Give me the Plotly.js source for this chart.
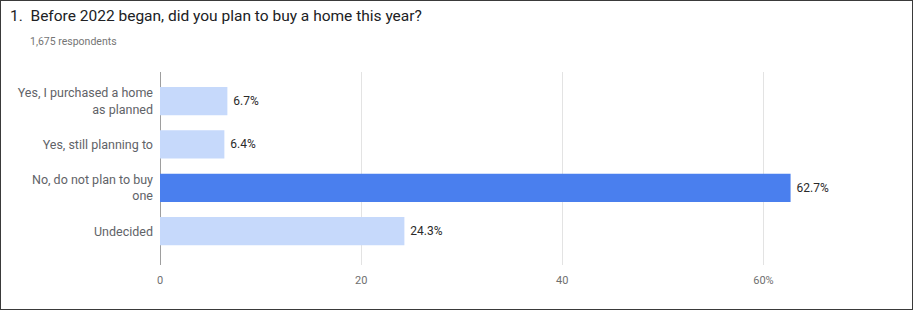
<!DOCTYPE html>
<html>
<head>
<meta charset="utf-8">
<script src="https://cdn.plot.ly/plotly-3.0.1.min.js"></script>
<style>
html,body{margin:0;padding:0;background:#fff;}
#wrap{width:911px;height:308px;border:1px solid #3a3a3a;}
#chart{width:911px;height:308px;}
</style>
</head>
<body>
<div id="wrap"><div id="chart"></div></div>
<script>
var categories = ["Yes, I purchased a home<br>as planned", "Yes, still planning to", "No, do not plan to buy<br>one", "Undecided"];
var percentages = [6.7, 6.4, 62.7, 24.3];
var xTickValues = [0, 20, 40, 60];
var xTickLabels = ["0", "20", "40", "60%"];

var maxVal = Math.max.apply(null, percentages);
var barColors = percentages.map(function(v){ return v === maxVal ? "#4a7fee" : "#c6d9fb"; });

var trace = {
  type: "bar",
  orientation: "h",
  y: categories,
  x: percentages,
  width: 0.65,
  marker: {color: barColors},
  text: percentages.map(function(v){ return "\u00a0" + v.toFixed(1) + "%"; }),
  textposition: "outside",
  cliponaxis: false,
  textfont: {family: "Roboto, Arial, sans-serif", size: 12, color: "#2a2a2a"},
  hoverinfo: "none"
};

var layout = {
  width: 911,
  height: 308,
  margin: {l: 159, r: 48, t: 71, b: 44},
  paper_bgcolor: "#ffffff",
  plot_bgcolor: "#ffffff",
  showlegend: false,
  title: {
    text: "1.  Before 2022 began, did you plan to buy a home this year?",
    font: {family: "Roboto, Arial, sans-serif", size: 15.5, color: "#202124"},
    x: 9/911, xanchor: "left", xref: "container",
    y: 1 - 15/308, yanchor: "middle", yref: "container"
  },
  annotations: [{
    text: "1,675 respondents",
    xref: "paper", yref: "paper",
    x: (27 - 159)/704, xanchor: "left",
    y: 1 + (71 - 40)/193, yanchor: "middle",
    showarrow: false,
    font: {family: "Roboto, Arial, sans-serif", size: 10.5, color: "#757575"}
  }],
  xaxis: {
    range: [0, 70],
    tickvals: xTickValues,
    ticktext: xTickLabels,
    showgrid: true,
    gridcolor: "#e3e3e3",
    gridwidth: 1,
    zeroline: true,
    zerolinecolor: "#9e9e9e",
    zerolinewidth: 1,
    showline: false,
    ticks: "",
    ticklabelstandoff: 7,
    tickfont: {family: "Roboto, Arial, sans-serif", size: 11, color: "#6f6f6f"},
    fixedrange: true
  },
  yaxis: {
    type: "category",
    range: [3.78, -0.67],
    showgrid: false,
    showline: false,
    zeroline: false,
    ticks: "",
    ticklabelstandoff: 6,
    tickfont: {family: "Roboto, Arial, sans-serif", size: 12.5, color: "#5f6368"},
    fixedrange: true
  },
  bargap: 0.35
};

Plotly.newPlot("chart", [trace], layout, {displayModeBar: false, staticPlot: true});
</script>
</body>
</html>
